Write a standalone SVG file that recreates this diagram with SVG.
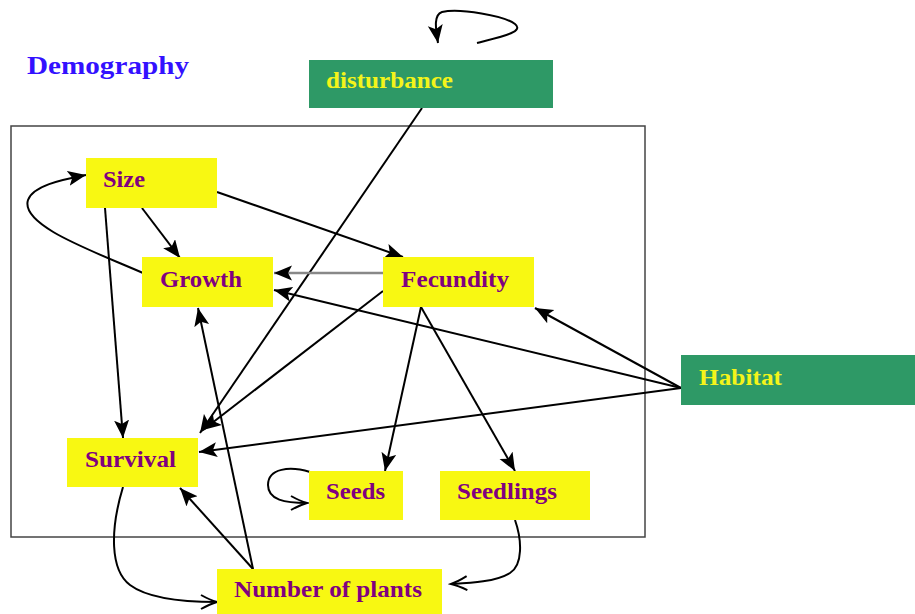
<svg xmlns="http://www.w3.org/2000/svg" width="915" height="614" viewBox="0 0 915 614">
<style>
.y{fill:#f8f812}
.g{fill:#2e9966}
.t{font-family:"Liberation Serif","Times New Roman",serif;font-weight:bold;font-size:23px}
.p{fill:#800080}
.w{fill:#f4f41a}
.e{fill:none;stroke:#000;stroke-width:2}
.f{marker-end:url(#fa)}
.o{marker-end:url(#oa)}
</style>
<defs>
<marker id="fa" markerUnits="userSpaceOnUse" markerWidth="20" markerHeight="16" refX="18" refY="7.5" orient="auto">
<path d="M0,0 L18,7.5 L0,15 L4,7.5 z" fill="#000"/>
</marker>
<marker id="oa" markerUnits="userSpaceOnUse" markerWidth="20" markerHeight="16" refX="17" refY="8" orient="auto">
<path d="M1,1 Q10,6 17,8 Q10,10 1,15" fill="none" stroke="#000" stroke-width="2"/>
</marker>
</defs>
<rect width="915" height="614" fill="#fff"/>
<text x="27" y="74" font-family="Liberation Serif,serif" font-weight="bold" font-size="25" fill="#3311ff" textLength="162" lengthAdjust="spacingAndGlyphs">Demography</text>
<rect id="frame" x="11" y="126" width="634" height="411" fill="none" stroke="#444" stroke-width="1.5"/>
<g id="connectors">
<path class="e f" d="M477,43 C500,37 525,32 515,24 C505,16 460,8 442,12 C433,15 436,30 438,43"/>
<path class="e f" d="M422,108 L200,433"/>
<path class="e f" d="M383,291 L203,430"/>
<path class="e f" d="M142,208 L180,258"/>
<path class="e f" d="M217,192 L403,257"/>
<path class="e f" d="M105,208 L123,438"/>
<path class="e f" d="M143,273 C90,250 20,225 28,200 C33,186 60,180 86,175"/>
<path class="f" d="M383,273 L274,273" fill="none" stroke="#888" stroke-width="2.6"/>
<path class="e f" d="M421,307 L385,471"/>
<path class="e f" d="M421,307 L515,471"/>
<path class="e f" d="M681,388 L274,290"/>
<path class="e f" d="M681,388 L535,308"/>
<path class="e f" d="M681,388 L199,452"/>
<path class="e o" d="M310,472 C290,466 268,468 268,485 C268,500 285,503 307,503"/>
<path class="e o" d="M515,520 C522,540 523,565 510,573 C495,582 470,583 451,584"/>
<path class="e o" d="M123,487 C110,530 110,570 130,585 C150,600 190,602 217,602"/>
<path class="e f" d="M253,569 L180,488"/>
<path class="e f" d="M253,569 L198,308"/>
</g>
<g id="disturbance"><rect class="g" x="309" y="60" width="244" height="48"/><text class="t w" x="326" y="88" textLength="127" lengthAdjust="spacingAndGlyphs">disturbance</text></g>
<g id="size"><rect class="y" x="86" y="158" width="131" height="50"/><text class="t p" x="103" y="187" textLength="42" lengthAdjust="spacingAndGlyphs">Size</text></g>
<g id="growth"><rect class="y" x="142" y="257" width="131" height="50"/><text class="t p" x="160" y="287" textLength="82" lengthAdjust="spacingAndGlyphs">Growth</text></g>
<g id="fecundity"><rect class="y" x="383" y="257" width="151" height="50"/><text class="t p" x="401" y="287" textLength="108" lengthAdjust="spacingAndGlyphs">Fecundity</text></g>
<g id="habitat"><rect class="g" x="681" y="355" width="234" height="50"/><text class="t w" x="699" y="385" textLength="83" lengthAdjust="spacingAndGlyphs">Habitat</text></g>
<g id="survival"><rect class="y" x="67" y="438" width="131" height="49"/><text class="t p" x="85" y="467" textLength="91" lengthAdjust="spacingAndGlyphs">Survival</text></g>
<g id="seeds"><rect class="y" x="309" y="471" width="94" height="49"/><text class="t p" x="326" y="499" textLength="59" lengthAdjust="spacingAndGlyphs">Seeds</text></g>
<g id="seedlings"><rect class="y" x="440" y="471" width="150" height="49"/><text class="t p" x="457" y="499" textLength="100" lengthAdjust="spacingAndGlyphs">Seedlings</text></g>
<g id="number-of-plants"><rect class="y" x="217" y="569" width="225" height="45"/><text class="t p" x="234" y="597" textLength="188" lengthAdjust="spacingAndGlyphs">Number of plants</text></g>
</svg>
